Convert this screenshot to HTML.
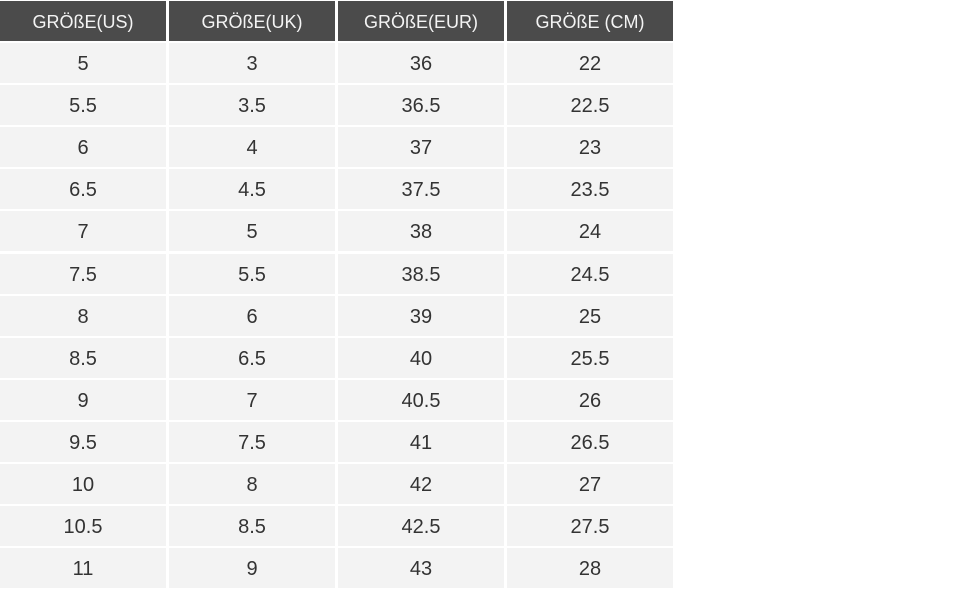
<!DOCTYPE html>
<html><head><meta charset="utf-8"><style>
body{margin:0;width:970px;height:600px;background:#fff;position:relative;overflow:hidden;font-family:"Liberation Sans",sans-serif}
.c{position:absolute;display:flex;align-items:center;justify-content:center;width:166px;box-sizing:border-box;padding-top:3px}
.h{background:#4b4b4b;color:#f4f4f4;font-size:18px;top:1px;height:40px}
.b{background:#f3f3f3;color:#333;font-size:20px;height:40px}
</style></head><body>
<div id="t"></div>
<script>
var xs=[0,169,338,507];
var hd=["GRÖßE(US)","GRÖßE(UK)","GRÖßE(EUR)","GRÖßE (CM)"];
var rows=[["5","3","36","22"],["5.5","3.5","36.5","22.5"],["6","4","37","23"],["6.5","4.5","37.5","23.5"],["7","5","38","24"],["7.5","5.5","38.5","24.5"],["8","6","39","25"],["8.5","6.5","40","25.5"],["9","7","40.5","26"],["9.5","7.5","41","26.5"],["10","8","42","27"],["10.5","8.5","42.5","27.5"],["11","9","43","28"]];
var h="";
for(var j=0;j<4;j++)h+='<div class="c h" style="left:'+xs[j]+'px">'+hd[j]+'</div>';
for(var i=0;i<13;i++){var y=(43+i*42.1).toFixed(1);for(var j=0;j<4;j++)h+='<div class="c b" style="left:'+xs[j]+'px;top:'+y+'px">'+rows[i][j]+'</div>';}
document.getElementById("t").innerHTML=h;
</script>
</body></html>
